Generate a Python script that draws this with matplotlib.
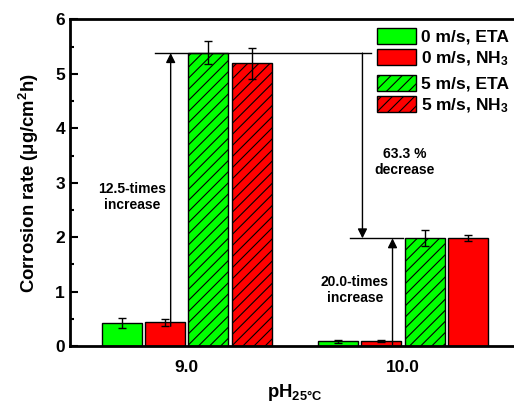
import numpy as np
import matplotlib.pyplot as plt
from matplotlib.patches import Patch

plt.rcParams['font.family'] = ['Liberation Sans', 'DejaVu Sans']
plt.rcParams['font.weight'] = 'bold'
plt.rcParams['axes.labelweight'] = 'bold'
plt.rcParams['mathtext.fontset'] = 'custom'
plt.rcParams['mathtext.rm'] = 'Liberation Sans:bold'
plt.rcParams['mathtext.it'] = 'Liberation Sans:bold'
plt.rcParams['mathtext.bf'] = 'Liberation Sans:bold'
plt.rcParams['hatch.linewidth'] = 0.8

# data
ph_labels = ['9.0', '10.0']
eta_0 = [0.42, 0.086]
eta_0_err = [0.09, 0.03]
nh3_0 = [0.435, 0.10]
nh3_0_err = [0.06, 0.02]
eta_5 = [5.39, 1.99]
eta_5_err = [0.21, 0.15]
nh3_5 = [5.19, 1.99]
nh3_5_err = [0.29, 0.05]

GREEN = '#00ff00'
RED = '#ff0000'

fig = plt.figure(figsize=(5.14, 4.03), dpi=100)
ax = fig.add_axes([0.136, 0.141, 0.875, 0.811])

x = np.arange(len(ph_labels))
w = 0.185
step = 0.2
ek = dict(ecolor='k', capsize=3, error_kw=dict(elinewidth=1, capthick=1))

ax.bar(x - 1.5 * step, eta_0, w, yerr=eta_0_err, color=GREEN, edgecolor='k', linewidth=1, **ek)
ax.bar(x - 0.5 * step, nh3_0, w, yerr=nh3_0_err, color=RED, edgecolor='k', linewidth=1, **ek)
ax.bar(x + 0.5 * step, eta_5, w, yerr=eta_5_err, color=GREEN, edgecolor='k', linewidth=1, hatch='///', **ek)
# the 5 m/s NH3 bar at pH 10 is drawn without hatching in the original
hatches = ['///', '']
for i in range(len(x)):
    ax.bar(x[i] + 1.5 * step, nh3_5[i], w, yerr=nh3_5_err[i], color=RED, edgecolor='k',
           linewidth=1, hatch=hatches[i], **ek)

# annotations
arr = dict(arrowstyle='-|>', mutation_scale=14, lw=1, color='k', shrinkA=0, shrinkB=0)
top = eta_5[0] - 0.01
ax.plot([-0.148, 0.852], [top, top], color='k', lw=1)
ax.annotate('', xy=(-0.074, top), xytext=(-0.074, nh3_0[0] - 0.07), arrowprops=arr)
ax.text(-0.252, 2.74, '12.5-times\nincrease', ha='center', va='center', fontsize=10, linespacing=1.15)

low = eta_5[1] - 0.01
ax.annotate('', xy=(0.813, low), xytext=(0.813, top), arrowprops=arr)
ax.plot([0.755, 1.0], [low, low], color='k', lw=1)
ax.text(1.009, 3.38, '63.3 %\ndecrease', ha='center', va='center', fontsize=10, linespacing=1.15)

ax.annotate('', xy=(0.952, low), xytext=(0.952, 0.03), arrowprops=arr)
ax.text(0.778, 1.03, '20.0-times\nincrease', ha='center', va='center', fontsize=10, linespacing=1.15)

ax.set_xlim(-0.54, 1.54)
ax.set_ylim(0, 6)
ax.set_xticks(x)
ax.set_xticklabels(ph_labels)
ax.set_yticks(range(7))
ax.set_yticks(np.arange(0.5, 6, 1), minor=True)
ax.tick_params(axis='x', length=0, labelsize=12.5, pad=10)
ax.tick_params(axis='y', which='major', direction='in', length=6, width=1.5, labelsize=12.5)
ax.tick_params(axis='y', which='minor', direction='in', length=3, width=1.5)
for s in ax.spines.values():
    s.set_linewidth(2)

ax.set_ylabel('Corrosion rate (μg/cm$^2$h)', fontsize=13.3, labelpad=10)
ax.set_xlabel('pH$_{25°C}$', fontsize=13.3, labelpad=5)

h1 = [Patch(facecolor=GREEN, edgecolor='k', label='0 m/s, ETA'),
      Patch(facecolor=RED, edgecolor='k', label='0 m/s, NH$_3$')]
h2 = [Patch(facecolor=GREEN, edgecolor='k', hatch='///', label='5 m/s, ETA'),
      Patch(facecolor=RED, edgecolor='k', hatch='///', label='5 m/s, NH$_3$')]
leg_kw = dict(frameon=False, fontsize=12.5, handlelength=2.24, handleheight=1.05,
              handletextpad=0.3, labelspacing=0.25, borderpad=0, borderaxespad=0)
leg1 = ax.legend(handles=h1, loc='upper left', bbox_to_anchor=(0.683, 0.975), **leg_kw)
ax.add_artist(leg1)
ax.legend(handles=h2, loc='upper left', bbox_to_anchor=(0.683, 0.83), **leg_kw)

fig.savefig('out.png', dpi=100)
